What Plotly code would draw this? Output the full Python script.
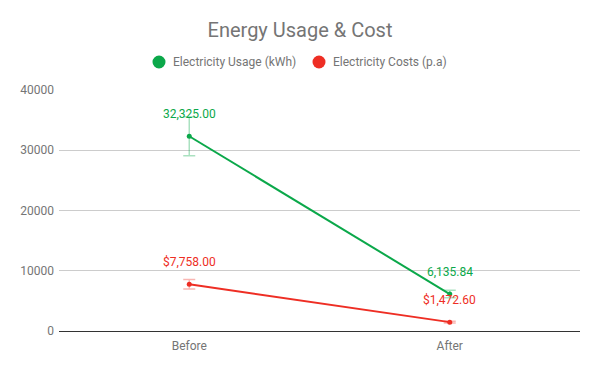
import plotly.graph_objects as go

categories = ["Before", "After"]
usage_kwh = [32325.00, 6135.84]
costs_pa = [7758.00, 1472.60]
usage_labels = ["32,325.00", "6,135.84"]
cost_labels = ["$7,758.00", "$1,472.60"]
y_ticks = [0, 10000, 20000, 30000, 40000]
error_pct = 10
series_names = ["Electricity Usage (kWh)", "Electricity Costs (p.a)"]

GREEN = "#0ba84a"
RED = "#ee2e24"
GREEN_ERR = "rgba(11,168,74,0.35)"
RED_ERR = "rgba(238,46,36,0.35)"

W, H = 600, 371
L, R, T, B = 59, 20, 90, 40
PW, PH = W - L - R, H - T - B


def px_x(X):
    return (X - L) / PW


def px_y(Y):
    return (H - B - Y) / PH


fig = go.Figure()
for name, vals, col, ecol in [(series_names[0], usage_kwh, GREEN, GREEN_ERR),
                              (series_names[1], costs_pa, RED, RED_ERR)]:
    fig.add_trace(go.Scatter(
        x=categories, y=vals, mode="lines+markers", name=name, showlegend=False,
        line=dict(color=col, width=2), marker=dict(color=col, size=5),
        error_y=dict(type="percent", value=error_pct, color=ecol, thickness=1.5, width=6),
    ))

for xs, ys, labs, col in [(categories, usage_kwh, usage_labels, GREEN),
                          (categories, costs_pa, cost_labels, RED)]:
    for xv, yv, lab in zip(xs, ys, labs):
        fig.add_annotation(x=xv, y=yv, text=lab, showarrow=False, yshift=22,
                           font=dict(color=col, size=12, family="Roboto"))

# custom legend (circle markers + labels)
legend_items = [(series_names[0], GREEN, 159, 171), (series_names[1], RED, 319, 331)]
for name, col, cx, tx in legend_items:
    fig.add_shape(type="circle", xref="paper", yref="paper",
                  xsizemode="pixel", ysizemode="pixel",
                  xanchor=px_x(cx), yanchor=px_y(62),
                  x0=-6.5, x1=6.5, y0=-6.5, y1=6.5,
                  fillcolor=col, line=dict(width=0))
    fig.add_annotation(xref="paper", yref="paper", x=px_x(tx), y=px_y(62),
                       xanchor="left", yanchor="middle", text=name, showarrow=False,
                       font=dict(size=12, color="#757575", family="Roboto"))

fig.update_layout(
    width=W, height=H,
    margin=dict(l=L, r=R, t=T, b=B, autoexpand=False),
    paper_bgcolor="white", plot_bgcolor="white",
    font=dict(family="Roboto", color="#757575", size=12),
    title=dict(text="Energy Usage & Cost", x=0.5, xanchor="center",
               yref="container", y=1 - 30 / H, yanchor="middle",
               font=dict(size=20, color="#757575", family="Roboto")),
    showlegend=False,
)
fig.update_xaxes(type="category", range=[-0.5, 1.5], showgrid=False, ticks="",
                 showline=True, linecolor="#333333", linewidth=1,
                 ticklabelstandoff=4,
                 tickfont=dict(color="#757575", size=12))
fig.update_yaxes(range=[0, 40000], tickvals=y_ticks, ticktext=[str(v) for v in y_ticks],
                 showgrid=True, gridcolor="#cccccc", gridwidth=1, zeroline=False,
                 showline=False, ticks="", ticklabelstandoff=4,
                 tickfont=dict(color="#757575", size=12))

fig.write_html("out.html", config={"displayModeBar": False},
               post_script="document.body.style.margin='0';")
